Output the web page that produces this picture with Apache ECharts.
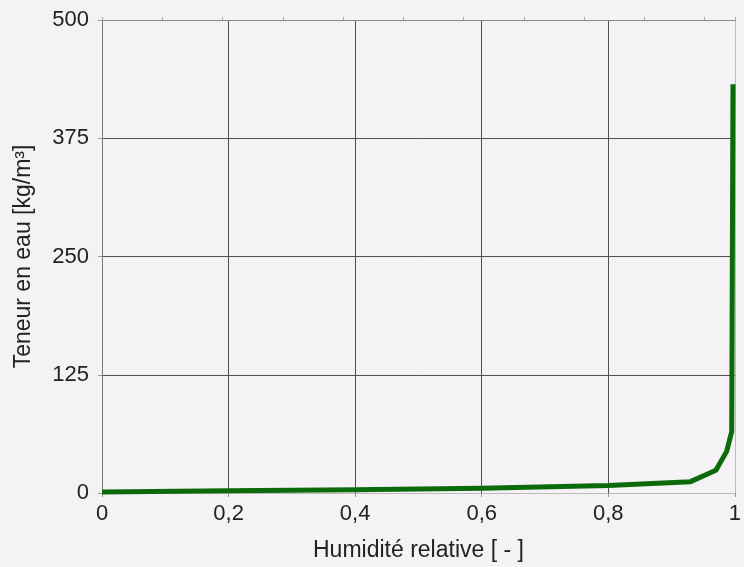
<!DOCTYPE html>
<html>
<head>
<meta charset="utf-8">
<script src="https://cdn.jsdelivr.net/npm/echarts@6/dist/echarts.min.js"></script>
<style>
html, body { margin: 0; padding: 0; background: #f5f2f5; }
#mychart { width: 744px; height: 567px; }
</style>
</head>
<body>
<div id="mychart"></div>
<script>
// humidité relative [-] et teneur en eau [kg/m3]
var humRel = [0, 0.2, 0.4, 0.6, 0.8, 0.93, 0.97, 0.987, 0.995, 0.997];
var teneurEau = [1, 2.5, 3.5, 5, 8, 12, 24, 44, 65, 432];
var xTicks = [0, 0.2, 0.4, 0.6, 0.8, 1];
var yTicks = [0, 125, 250, 375, 500];

var font = 'Liberation Sans';
var Ydata = [];
humRel.forEach(function (v, i) {
    Ydata.push([v, teneurEau[i]]);
});

var myChart = echarts.init(document.getElementById('mychart'));
myChart.setOption({
    backgroundColor: '#f5f2f5',
    animation: false,
    grid: {
        left: 102,
        right: 6,
        top: 20,
        bottom: 73
    },
    xAxis: [
        {
            type: 'value',
            position: 'bottom',
            min: xTicks[0],
            max: xTicks[xTicks.length - 1],
            interval: 0.2,
            name: 'Humidité relative [ - ]',
            nameLocation: 'middle',
            nameGap: 46,
            nameTextStyle: { color: '#222', fontSize: 23, fontFamily: font },
            axisLine: { onZero: false, lineStyle: { color: '#bbbbbb', width: 1 } },
            axisTick: { show: true, length: 4, lineStyle: { color: '#999' } },
            axisLabel: {
                color: '#222', fontSize: 22, fontFamily: font, margin: 10,
                formatter: function (v) { return String(v).replace('.', ','); }
            },
            splitLine: { show: true, showMinLine: false, showMaxLine: false, lineStyle: { color: '#505050', width: 1 } }
        },
        {
            type: 'value',
            position: 'top',
            min: 0,
            max: 1.05,
            interval: 0.1,
            axisLine: { onZero: false, lineStyle: { color: '#888', width: 1 } },
            axisTick: { show: true, length: 3, lineStyle: { color: '#aaa' } },
            axisLabel: { show: false },
            splitLine: { show: false }
        }
    ],
    yAxis: [
        {
            type: 'value',
            position: 'left',
            min: yTicks[0],
            max: yTicks[yTicks.length - 1],
            interval: 125,
            name: 'Teneur en eau [kg/m³]',
            nameLocation: 'middle',
            nameGap: 67,
            nameTextStyle: { color: '#222', fontSize: 23, fontFamily: font },
            axisLine: { show: true, onZero: false, lineStyle: { color: '#777', width: 1 } },
            axisTick: { show: true, length: 4, lineStyle: { color: '#999' } },
            axisLabel: { color: '#222', fontSize: 22, fontFamily: font, margin: 13 },
            splitLine: { show: true, showMinLine: false, showMaxLine: false, lineStyle: { color: '#505050', width: 1 } }
        },
        {
            type: 'value',
            position: 'right',
            min: 0,
            max: 500,
            axisLine: { show: true, onZero: false, lineStyle: { color: '#bbbbbb', width: 1 } },
            axisTick: { show: false },
            axisLabel: { show: false },
            splitLine: { show: false }
        }
    ],
    series: [
        {
            name: 'Teneur en eau',
            type: 'line',
            xAxisIndex: 0,
            yAxisIndex: 0,
            showSymbol: false,
            symbol: 'none',
            clip: false,
            lineStyle: { color: '#0b6b0b', width: 5, join: 'round' },
            data: Ydata
        }
    ]
});
</script>
</body>
</html>
